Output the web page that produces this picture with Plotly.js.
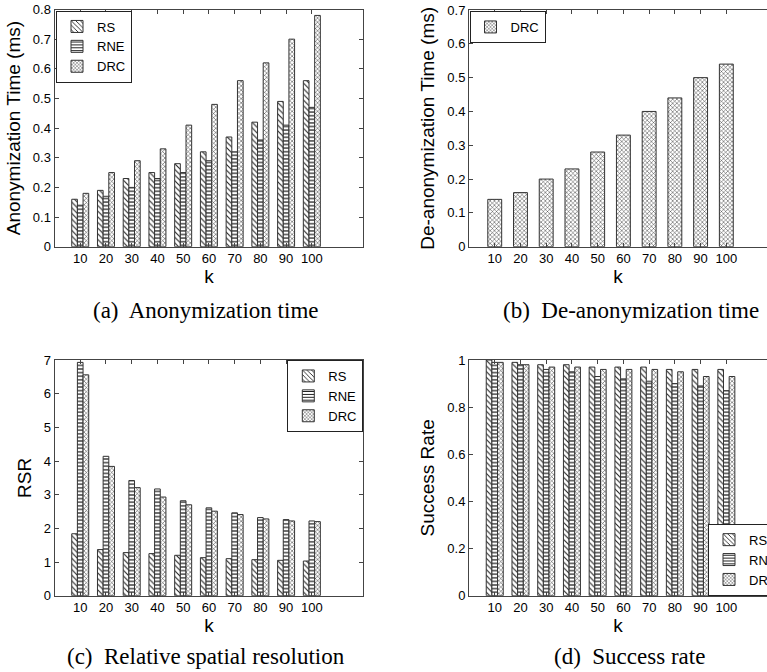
<!DOCTYPE html>
<html>
<head>
<meta charset="utf-8">
<script src="https://cdn.plot.ly/plotly-3.0.1.min.js"></script>
<style>html,body{margin:0;padding:0;background:#fff;}#chart{width:767px;height:672px;}</style>
</head>
<body>
<div id="chart"></div>
<script>
// ---- data ----
var kPositions = [1, 2, 3, 4, 5, 6, 7, 8, 9, 10];
var kLabels = ['10', '20', '30', '40', '50', '60', '70', '80', '90', '100'];

var anonRS  = [0.16, 0.19, 0.23, 0.25, 0.28, 0.32, 0.37, 0.42, 0.49, 0.56];
var anonRNE = [0.14, 0.17, 0.20, 0.23, 0.25, 0.29, 0.32, 0.36, 0.41, 0.47];
var anonDRC = [0.18, 0.25, 0.29, 0.33, 0.41, 0.48, 0.56, 0.62, 0.70, 0.78];

var deanonDRC = [0.14, 0.16, 0.20, 0.23, 0.28, 0.33, 0.40, 0.44, 0.50, 0.54];

var rsrRS  = [1.84, 1.37, 1.28, 1.25, 1.20, 1.13, 1.10, 1.07, 1.05, 1.03];
var rsrRNE = [6.93, 4.14, 3.42, 3.17, 2.82, 2.61, 2.46, 2.32, 2.26, 2.22];
var rsrDRC = [6.56, 3.84, 3.21, 2.93, 2.70, 2.51, 2.41, 2.28, 2.22, 2.20];

var succRS  = [1.00, 0.99, 0.98, 0.98, 0.97, 0.97, 0.97, 0.96, 0.96, 0.96];
var succRNE = [0.99, 0.98, 0.96, 0.95, 0.93, 0.92, 0.91, 0.90, 0.89, 0.87];
var succDRC = [0.99, 0.98, 0.97, 0.97, 0.96, 0.96, 0.96, 0.95, 0.93, 0.93];

var seriesNames = ['RS', 'RNE', 'DRC'];
var captions = ['(a)  Anonymization time', '(b)  De-anonymization time',
                '(c)  Relative spatial resolution', '(d)  Success rate'];

// ---- styles ----
var patterns = {
  RS:  {shape: '\\', size: 4, solidity: 0.28, fgcolor: '#222', bgcolor: '#fff'},
  RNE: {shape: '-',  size: 3.6, solidity: 0.32, fgcolor: '#111', bgcolor: '#fff'},
  DRC: {shape: 'x',  size: 3, solidity: 0.3, fgcolor: '#333', bgcolor: '#fff'}
};

function barTrace(name, y, ax, legendId, showleg, width) {
  var t = {
    type: 'bar', name: name, x: kPositions, y: y,
    xaxis: 'x' + ax, yaxis: 'y' + ax,
    legend: legendId, showlegend: showleg,
    marker: {color: '#fff', pattern: patterns[name], line: {color: '#333', width: 1}},
    hoverinfo: 'skip'
  };
  if (width) t.width = width;
  return t;
}

var data = [
  barTrace('RS', anonRS, '', 'legend', true),
  barTrace('RNE', anonRNE, '', 'legend', true),
  barTrace('DRC', anonDRC, '', 'legend', true),
  barTrace('DRC', deanonDRC, '2', 'legend2', true, 0.54),
  barTrace('RS', rsrRS, '3', 'legend3', true),
  barTrace('RNE', rsrRNE, '3', 'legend3', true),
  barTrace('DRC', rsrDRC, '3', 'legend3', true),
  barTrace('RS', succRS, '4', 'legend4', true),
  barTrace('RNE', succRNE, '4', 'legend4', true),
  barTrace('DRC', succDRC, '4', 'legend4', true)
];

var W = 767, H = 672;
function px(v) { return v / W; }
function py(v) { return 1 - v / H; }

var tickFont = {family: 'Liberation Sans, Arial, sans-serif', size: 13, color: '#000'};
var titleFont = {family: 'Liberation Sans, Arial, sans-serif', size: 19, color: '#000'};

function xAxis(domain, range, anchor) {
  return {
    domain: domain, range: range, anchor: anchor,
    tickmode: 'array', tickvals: kPositions, ticktext: kLabels,
    ticks: 'inside', ticklen: 4, tickcolor: '#444',
    showline: true, linecolor: '#444', linewidth: 1, mirror: 'allticks',
    showgrid: false, zeroline: false, tickfont: tickFont,
    title: {text: 'k', font: titleFont, standoff: 2}
  };
}
function yAxis(domain, range, dtick, anchor, title, mirror) {
  return {
    domain: domain, range: range, anchor: anchor, dtick: dtick, tick0: 0,
    ticks: 'inside', ticklen: 4, tickcolor: '#444',
    showline: true, linecolor: '#444', linewidth: 1, mirror: mirror,
    showgrid: false, zeroline: false, tickfont: tickFont,
    title: {text: title, font: titleFont, standoff: 7}
  };
}

var unit = (363.3 - 54.5) / 12;
var legendFont = {family: 'Liberation Sans, Arial, sans-serif', size: 13, color: '#000'};
function legendBox(x, y, xa, ya) {
  return {x: x, y: y, xanchor: xa, yanchor: ya, xref: 'paper', yref: 'paper',
          bgcolor: '#fff', bordercolor: '#222', borderwidth: 1, font: legendFont,
          tracegroupgap: 0, itemclick: false, itemdoubleclick: false};
}

var captionFont = {family: 'Liberation Serif, Times New Roman, serif', size: 23, color: '#000'};
function caption(text, x, y) {
  return {text: text, x: px(x), y: py(y), xref: 'paper', yref: 'paper',
          showarrow: false, xanchor: 'center', yanchor: 'middle', font: captionFont};
}

var layout = {
  width: W, height: H,
  margin: {l: 0, r: 0, t: 0, b: 0, autoexpand: false},
  paper_bgcolor: '#fff', plot_bgcolor: '#fff',
  barmode: 'group', bargap: 0.34, bargroupgap: 0,
  xaxis:  xAxis([px(54.5), px(363.3)], [0, 12], 'y'),
  yaxis:  yAxis([py(246.7), py(9.5)], [0, 0.8], 0.1, 'x', 'Anonymization Time (ms)', 'allticks'),
  xaxis2: xAxis([px(469), 1], [0, (767 - 469) / unit], 'y2'),
  yaxis2: yAxis([py(246.7), py(10)], [0, 0.7], 0.1, 'x2', 'De-anonymization Time (ms)', false),
  xaxis3: xAxis([px(54.5), px(363.3)], [0, 12], 'y3'),
  yaxis3: yAxis([py(595.7), py(360)], [0, 7], 1, 'x3', 'RSR', 'allticks'),
  xaxis4: xAxis([px(469), 1], [0, (767 - 469) / unit], 'y4'),
  yaxis4: yAxis([py(595.7), py(360)], [0, 1], 0.2, 'x4', 'Success Rate', false),
  legend:  legendBox(px(56), py(10.5), 'left', 'top'),
  legend2: legendBox(px(469.5), py(11), 'left', 'top'),
  legend3: legendBox(px(363.3), py(360), 'right', 'top'),
  legend4: legendBox(px(708), py(595.7), 'left', 'bottom'),
  annotations: [
    caption(captions[0], 205.5, 310),
    caption(captions[1], 631, 310),
    caption(captions[2], 205.5, 656),
    caption(captions[3], 629, 656)
  ]
};

Plotly.newPlot('chart', data, layout, {displayModeBar: false});
</script>
</body>
</html>
